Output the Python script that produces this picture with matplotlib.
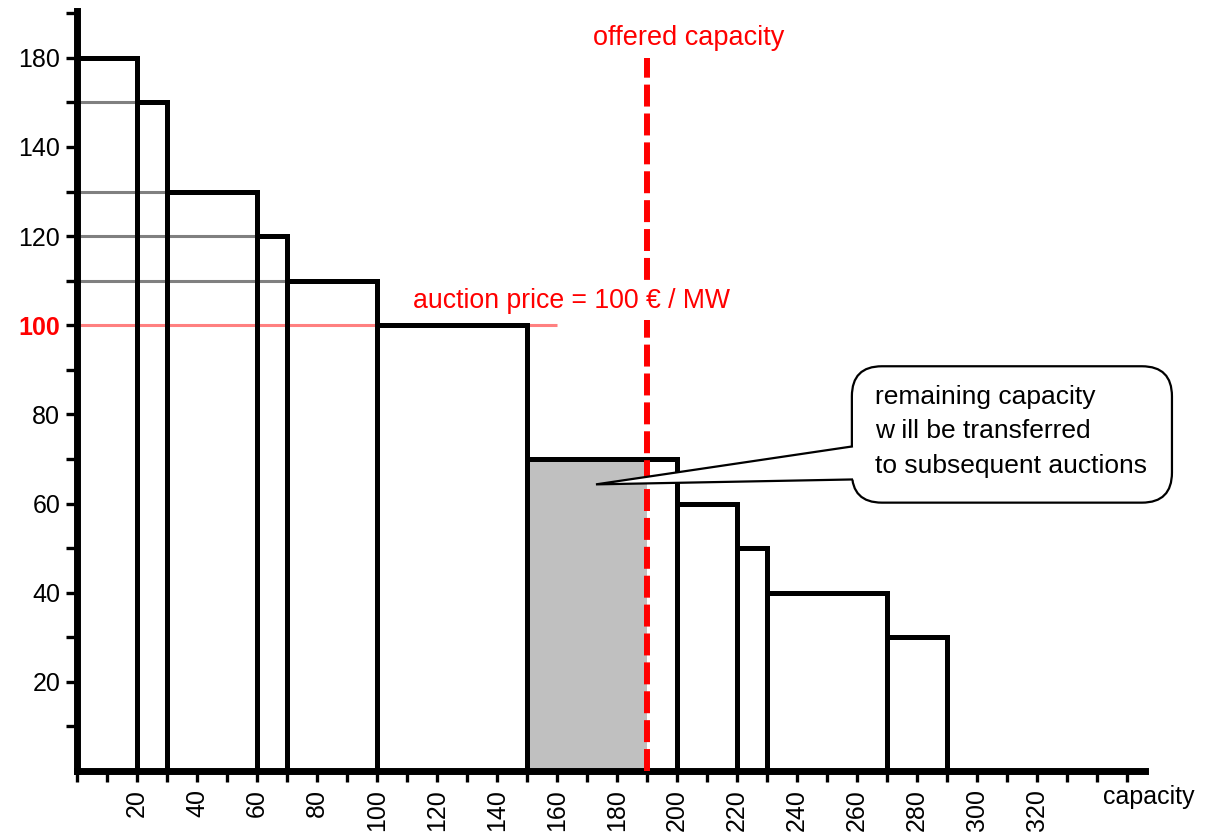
import matplotlib.pyplot as plt
from matplotlib.patches import FancyBboxPatch, Polygon
from matplotlib.ticker import MultipleLocator

plt.rcParams['font.family'] = ['Liberation Sans', 'DejaVu Sans']

# bid steps: capacity from-to and price
bar_left = [0, 20, 30, 60, 70, 100, 150, 200, 220, 230, 270]
bar_right = [20, 30, 60, 70, 100, 150, 200, 220, 230, 270, 290]
bar_price = [160, 150, 130, 120, 110, 100, 70, 60, 50, 40, 30]

auction_price = 100
offered_capacity = 190

# y ticks as printed in the original (top label reads 180)
ytick_pos = [20, 40, 60, 80, 100, 120, 140, 160]
ytick_labels = ['20', '40', '60', '80', '100', '120', '140', '180']
xtick_pos = list(range(20, 321, 20))

callout_text = 'remaining capacity\nw ill be transferred\nto subsequent auctions'

fig = plt.figure(figsize=(12.07, 8.36), dpi=100)
ax = fig.add_axes([0.0638, 0.0778, 0.8848, 0.909])

widths = [r - l for l, r in zip(bar_left, bar_right)]

# remaining capacity (bids below auction price, up to offered capacity)
rem_idx = [i for i in range(len(bar_left))
           if bar_price[i] < auction_price and bar_left[i] < offered_capacity]
for i in rem_idx:
    ax.bar(bar_left[i], bar_price[i], width=min(bar_right[i], offered_capacity) - bar_left[i],
           align='edge', color='#c0c0c0', linewidth=0, zorder=1)

# grey guide lines at price levels above the auction price
for i in range(1, len(bar_left)):
    if bar_price[i] > auction_price:
        ax.plot([0, bar_left[i]], [bar_price[i], bar_price[i]], color='#808080', lw=2.2,
                zorder=2, solid_capstyle='butt')
ax.plot([0, 160], [auction_price, auction_price], color='#ff8080', lw=2.2, zorder=2,
        solid_capstyle='butt')

ax.bar(bar_left, bar_price, width=widths, align='edge', fill=False,
       edgecolor='black', linewidth=3.6, zorder=3)

lw_red = 4.3
ax.plot([offered_capacity, offered_capacity], [0, bar_price[0]], color='#ff0000', lw=lw_red,
        linestyle=(0, (15.8 / lw_red, 5.0 / lw_red)), zorder=4, solid_capstyle='butt',
        dash_capstyle='butt')

ax.text(172, 164.5, 'offered capacity', color='#ff0000', fontsize=19.5, ha='left', va='center')
ax.text(112, 105.4, 'auction price = 100 \u20ac / MW', color='#ff0000', fontsize=19.2,
        ha='left', va='center', zorder=5,
        bbox=dict(boxstyle='square,pad=0.22', facecolor='white', edgecolor='none'))

# callout
box = FancyBboxPatch((258.3, 60.2), 106.7, 30.6,
                     boxstyle='round,pad=0,rounding_size=10', mutation_aspect=0.674,
                     facecolor='white', edgecolor='black', lw=1.6, zorder=6, clip_on=False)
ax.add_patch(box)
tip = (173, 64.3)
base_top = (258.3, 72.8)
base_bot = (258.3, 65.4)
ax.add_patch(Polygon([tip, (base_top[0] + 1.5, base_top[1]), (base_bot[0] + 1.5, base_bot[1])],
                     closed=True, facecolor='white', edgecolor='none', zorder=7))
ax.plot([base_top[0], tip[0], base_bot[0]], [base_top[1], tip[1], base_bot[1]],
        color='black', lw=1.6, zorder=8, solid_joinstyle='miter')
ax.text(266, 76.2, callout_text, fontsize=19, ha='left', va='center', linespacing=1.55,
        zorder=9)

ax.set_xlim(0, 356)
ax.set_ylim(0, 170.5)
for s in ['top', 'right']:
    ax.spines[s].set_visible(False)
for s in ['left', 'bottom']:
    ax.spines[s].set_linewidth(5)
    ax.spines[s].set_capstyle('projecting')

ax.set_xticks(xtick_pos)
ax.set_xticklabels([str(v) for v in xtick_pos], rotation=90)
ax.xaxis.set_minor_locator(MultipleLocator(10))
ax.set_yticks(ytick_pos)
ax.set_yticklabels(ytick_labels)
ax.set_yticks([10, 30, 50, 70, 90, 110, 130, 150, 170], minor=True)
ax.tick_params(which='both', direction='out', length=8, width=2.4, labelsize=18)
ax.tick_params(axis='y', pad=4)
ax.tick_params(axis='x', pad=5)

for lbl in ax.get_yticklabels():
    if lbl.get_text() == '100':
        lbl.set_color('#ff0000')
        lbl.set_fontweight('bold')

fig.text(1103 / 1207, 1 - 797 / 836, 'capacity', fontsize=18, ha='left', va='center')

fig.savefig('out.png', dpi=100)
